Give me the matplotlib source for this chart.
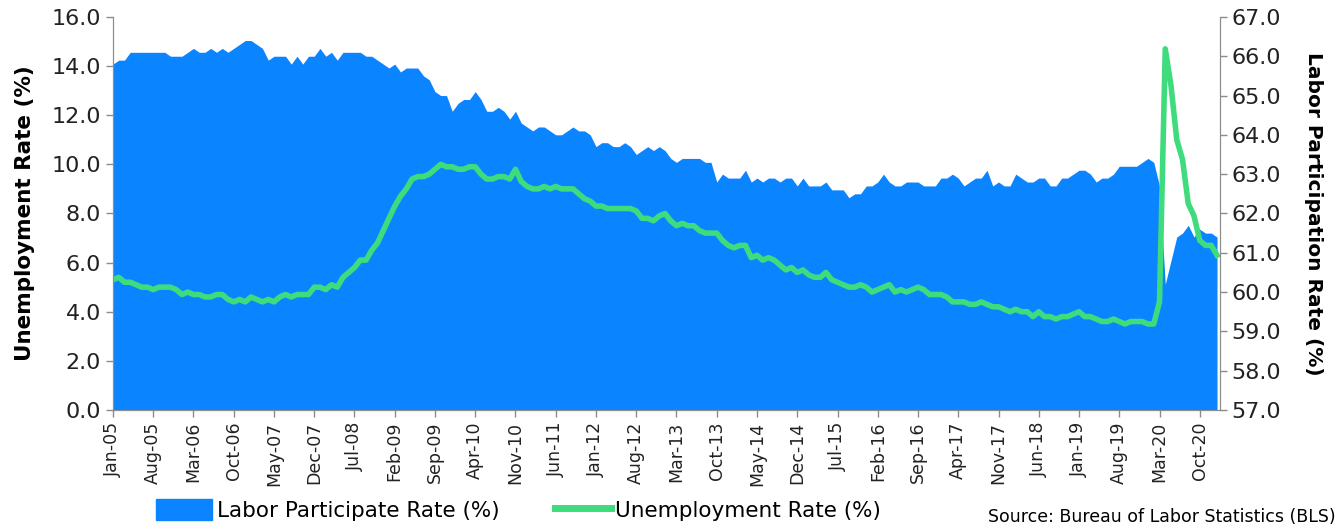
import numpy as np
import pandas as pd
import matplotlib
matplotlib.use("Agg")
import matplotlib.pyplot as plt
from matplotlib.patches import Patch
from matplotlib.lines import Line2D

# Monthly values, Jan-2005 .. Jan-2021
lfpr = [
    65.8, 65.9, 65.9, 66.1, 66.1, 66.1, 66.1, 66.1, 66.1, 66.1, 66.0, 66.0,  # 2005
    66.0, 66.1, 66.2, 66.1, 66.1, 66.2, 66.1, 66.2, 66.1, 66.2, 66.3, 66.4,  # 2006
    66.4, 66.3, 66.2, 65.9, 66.0, 66.0, 66.0, 65.8, 66.0, 65.8, 66.0, 66.0,  # 2007
    66.2, 66.0, 66.1, 65.9, 66.1, 66.1, 66.1, 66.1, 66.0, 66.0, 65.9, 65.8,  # 2008
    65.7, 65.8, 65.6, 65.7, 65.7, 65.7, 65.5, 65.4, 65.1, 65.0, 65.0, 64.6,  # 2009
    64.8, 64.9, 64.9, 65.1, 64.9, 64.6, 64.6, 64.7, 64.6, 64.4, 64.6, 64.3,  # 2010
    64.2, 64.1, 64.2, 64.2, 64.1, 64.0, 64.0, 64.1, 64.2, 64.1, 64.1, 64.0,  # 2011
    63.7, 63.8, 63.8, 63.7, 63.7, 63.8, 63.7, 63.5, 63.6, 63.7, 63.6, 63.7,  # 2012
    63.6, 63.4, 63.3, 63.4, 63.4, 63.4, 63.4, 63.3, 63.3, 62.8, 63.0, 62.9,  # 2013
    62.9, 62.9, 63.1, 62.8, 62.9, 62.8, 62.9, 62.9, 62.8, 62.9, 62.9, 62.7,  # 2014
    62.9, 62.7, 62.7, 62.7, 62.8, 62.6, 62.6, 62.6, 62.4, 62.5, 62.5, 62.7,  # 2015
    62.7, 62.8, 63.0, 62.8, 62.7, 62.7, 62.8, 62.8, 62.8, 62.7, 62.7, 62.7,  # 2016
    62.9, 62.9, 63.0, 62.9, 62.7, 62.8, 62.9, 62.9, 63.1, 62.7, 62.8, 62.7,  # 2017
    62.7, 63.0, 62.9, 62.8, 62.8, 62.9, 62.9, 62.7, 62.7, 62.9, 62.9, 63.0,  # 2018
    63.1, 63.1, 63.0, 62.8, 62.9, 62.9, 63.0, 63.2, 63.2, 63.2, 63.2, 63.3,  # 2019
    63.4, 63.3, 62.7, 60.2, 60.8, 61.4, 61.5, 61.7, 61.4, 61.6, 61.5, 61.5,  # 2020
    61.4,                                                                    # 2021
]

unemp = [
    5.3, 5.4, 5.2, 5.2, 5.1, 5.0, 5.0, 4.9, 5.0, 5.0, 5.0, 4.9,   # 2005
    4.7, 4.8, 4.7, 4.7, 4.6, 4.6, 4.7, 4.7, 4.5, 4.4, 4.5, 4.4,   # 2006
    4.6, 4.5, 4.4, 4.5, 4.4, 4.6, 4.7, 4.6, 4.7, 4.7, 4.7, 5.0,   # 2007
    5.0, 4.9, 5.1, 5.0, 5.4, 5.6, 5.8, 6.1, 6.1, 6.5, 6.8, 7.3,   # 2008
    7.8, 8.3, 8.7, 9.0, 9.4, 9.5, 9.5, 9.6, 9.8, 10.0, 9.9, 9.9,  # 2009
    9.8, 9.8, 9.9, 9.9, 9.6, 9.4, 9.4, 9.5, 9.5, 9.4, 9.8, 9.3,   # 2010
    9.1, 9.0, 9.0, 9.1, 9.0, 9.1, 9.0, 9.0, 9.0, 8.8, 8.6, 8.5,   # 2011
    8.3, 8.3, 8.2, 8.2, 8.2, 8.2, 8.2, 8.1, 7.8, 7.8, 7.7, 7.9,   # 2012
    8.0, 7.7, 7.5, 7.6, 7.5, 7.5, 7.3, 7.2, 7.2, 7.2, 6.9, 6.7,   # 2013
    6.6, 6.7, 6.7, 6.2, 6.3, 6.1, 6.2, 6.1, 5.9, 5.7, 5.8, 5.6,   # 2014
    5.7, 5.5, 5.4, 5.4, 5.6, 5.3, 5.2, 5.1, 5.0, 5.0, 5.1, 5.0,   # 2015
    4.8, 4.9, 5.0, 5.1, 4.8, 4.9, 4.8, 4.9, 5.0, 4.9, 4.7, 4.7,   # 2016
    4.7, 4.6, 4.4, 4.4, 4.4, 4.3, 4.3, 4.4, 4.3, 4.2, 4.2, 4.1,   # 2017
    4.0, 4.1, 4.0, 4.0, 3.8, 4.0, 3.8, 3.8, 3.7, 3.8, 3.8, 3.9,   # 2018
    4.0, 3.8, 3.8, 3.7, 3.6, 3.6, 3.7, 3.6, 3.5, 3.6, 3.6, 3.6,   # 2019
    3.5, 3.5, 4.4, 14.7, 13.2, 11.0, 10.2, 8.4, 7.9, 6.9, 6.7, 6.7,  # 2020
    6.3,                                                           # 2021
]

months = pd.date_range("2005-01-01", periods=len(lfpr), freq="MS")
tick_labels = [d.strftime("%b-%y") for d in months[::7]]

blue = "#0A84FF"
green = "#3EDC7C"
grey = "#8C8C8C"

x = np.arange(len(lfpr))

fig = plt.figure(figsize=(13.42, 5.29), dpi=100)
ax1 = fig.add_axes([0.0842, 0.225, 0.8248, 0.743])
ax2 = ax1.twinx()

# area on the right axis (labor participation)
ax2.fill_between(x, 57, lfpr, color=blue, linewidth=0)
ax2.set_ylim(57, 67)
ax2.set_yticks(np.arange(57, 67.1, 1))
ax2.set_yticklabels([f"{v:.1f}" for v in np.arange(57, 67.1, 1)], fontsize=16)

# line on the left axis (unemployment), kept above the area
ax1.plot(x, unemp, color=green, linewidth=4, solid_joinstyle="round")
ax1.set_zorder(ax2.get_zorder() + 1)
ax1.patch.set_visible(False)
ax1.set_ylim(0, 16)
ax1.set_yticks(np.arange(0, 16.1, 2))
ax1.set_yticklabels([f"{v:.1f}" for v in np.arange(0, 16.1, 2)], fontsize=16)
ax1.set_xlim(0, len(lfpr) - 0.5)
ax1.set_xticks(x[::7])
ax1.set_xticklabels(tick_labels, rotation=90, fontsize=12.5)

ax1.set_ylabel("Unemployment Rate (%)", fontsize=15.5, fontweight="bold", labelpad=12)
ax2.set_ylabel("Labor Participation Rate (%)", fontsize=14.5, fontweight="bold",
               rotation=270, labelpad=30)

for a in (ax1, ax2):
    for s in a.spines.values():
        s.set_color(grey)
    a.spines["top"].set_visible(False)
    a.tick_params(colors=grey, labelcolor="#222222", length=5, width=1)

handles = [Patch(facecolor=blue, edgecolor=blue),
           Line2D([0], [0], color=green, linewidth=5)]
fig.legend(handles, ["Labor Participate Rate (%)", "Unemployment Rate (%)"],
           loc="center left", bbox_to_anchor=(0.102, 0.036), ncol=2,
           frameon=False, prop={"size": 15.5}, handlelength=2.6, handleheight=1.1,
           handletextpad=0.2, columnspacing=2.6)

fig.text(0.995, 0.022, "Source: Bureau of Labor Statistics (BLS)", ha="right",
         va="center", fontsize=12.5)

fig.savefig("out.png", dpi=100)
